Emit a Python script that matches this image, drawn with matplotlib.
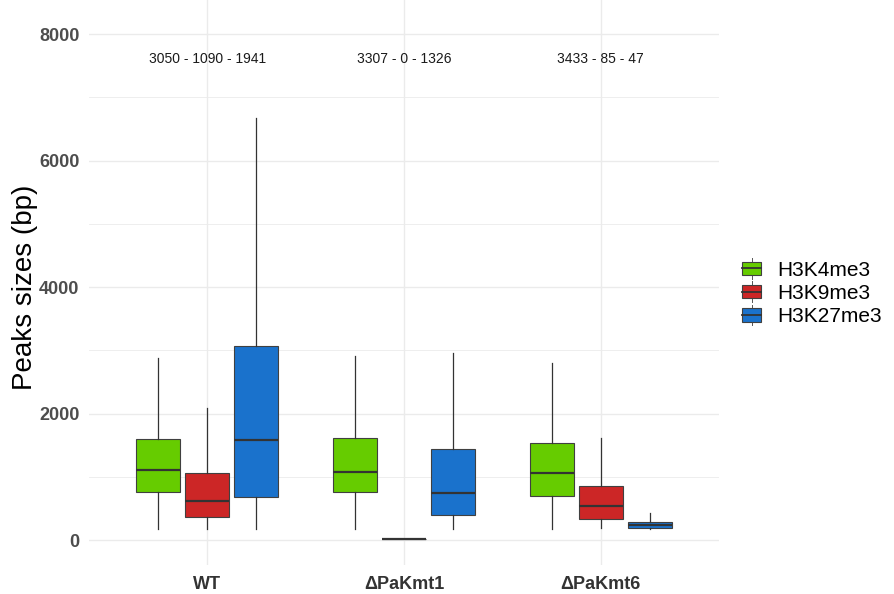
import matplotlib
matplotlib.use("Agg")
import matplotlib.pyplot as plt
from matplotlib.legend_handler import HandlerBase
from matplotlib.patches import Rectangle
from matplotlib.lines import Line2D

plt.rcParams['font.family'] = ['Liberation Sans', 'DejaVu Sans']

categories = ["WT", "\u0394PaKmt1", "\u0394PaKmt6"]
marks = ["H3K4me3", "H3K9me3", "H3K27me3"]
colors = ["#66CC00", "#CC2626", "#1A72CC"]
counts = ["3050 - 1090 - 1941", "3307 - 0 - 1326", "3433 - 85 - 47"]

# per mark, per category: (whislo, q1, med, q3, whishi)
h3k4 = [(169, 754, 1107, 1597, 2873), (174, 759, 1075, 1613, 2909), (174, 691, 1064, 1534, 2798)]
h3k9 = [(169, 369, 617, 1064, 2092), (15, 15, 15, 15, 15), (190, 327, 538, 854, 1617)]
h3k27 = [(169, 675, 1576, 3067, 6672), (174, 400, 748, 1439, 2956), (169, 190, 237, 290, 422)]
series = [h3k4, h3k9, h3k27]

fig = plt.figure(figsize=(8.94, 5.94), dpi=100)
ax = fig.add_axes([89/894, 29/594, (719-89)/894, 565/594])

offsets = [-0.25, 0.0, 0.25]
for s, (data, col) in enumerate(zip(series, colors)):
    stats = []
    for d in data:
        lo, q1, med, q3, hi = d
        stats.append(dict(whislo=lo, q1=q1, med=med, q3=q3, whishi=hi, fliers=[]))
    pos = [i + 1 + offsets[s] for i in range(len(categories))]
    ax.bxp(stats, positions=pos, widths=0.225, patch_artist=True, showfliers=False,
           showcaps=False,
           boxprops=dict(facecolor=col, edgecolor="#404040", linewidth=0.8),
           medianprops=dict(color="#333333", linewidth=1.6, solid_capstyle="butt"),
           whiskerprops=dict(color="#333333", linewidth=0.9),
           zorder=3)

ax.set_xlim(0.4, 3.6)
ax.set_ylim(-395, 8538)
ax.set_yticks([0, 2000, 4000, 6000, 8000])
ax.set_yticks([1000, 3000, 5000, 7000], minor=True)
ax.set_xticks([1, 2, 3])
ax.set_xticklabels(categories)
ax.grid(which="major", color="#EBEBEB", linewidth=1.0, zorder=0)
ax.grid(which="minor", axis="y", color="#EBEBEB", linewidth=0.6, zorder=0)
ax.set_axisbelow(True)
for sp in ax.spines.values():
    sp.set_visible(False)
ax.tick_params(axis="both", which="both", length=0)
ax.tick_params(axis="y", labelsize=13, labelcolor="#4D4D4D", pad=7)
ax.tick_params(axis="x", labelsize=13, labelcolor="#333333", pad=8)
for lab in ax.get_yticklabels() + ax.get_xticklabels():
    lab.set_fontweight("bold")
ax.set_ylabel("Peaks sizes (bp)", fontsize=20)
ax.yaxis.set_label_coords(-(89 - 38) / 630, (565 - 287) / 565)

for i, t in enumerate(counts):
    ax.text(i + 1, 7600, t, ha="center", va="center", fontsize=10, color="#1A1A1A")


class BoxHandler(HandlerBase):
    def __init__(self, color):
        super().__init__()
        self.color = color

    def create_artists(self, legend, orig_handle, xdescent, ydescent, width, height, fontsize, trans):
        w = width
        x0 = -xdescent
        h = height
        y0 = -ydescent
        rect = Rectangle((x0, y0), w, h, facecolor=self.color, edgecolor="#404040", linewidth=0.8, transform=trans)
        med = Line2D([x0, x0 + w], [y0 + h / 2] * 2, color="#333333", linewidth=1.3, transform=trans)
        cx = x0 + w / 2
        wt = Line2D([cx, cx], [y0 + h, y0 + h + 2.5], color="#555555", linewidth=0.7, transform=trans)
        wb = Line2D([cx, cx], [y0 - 2.5, y0], color="#555555", linewidth=0.7, transform=trans)
        return [wt, wb, rect, med]


handles = [Rectangle((0, 0), 1, 1) for _ in marks]
leg = fig.legend(handles, marks, handler_map={h: BoxHandler(c) for h, c in zip(handles, colors)},
                 loc="center left", bbox_to_anchor=(742/894, 1 - 293.5/594), frameon=False,
                 fontsize=15, handlelength=0.93, handleheight=0.62, handletextpad=0.75,
                 labelspacing=0.21, borderpad=0, borderaxespad=0)

fig.savefig("out.png", dpi=100)
